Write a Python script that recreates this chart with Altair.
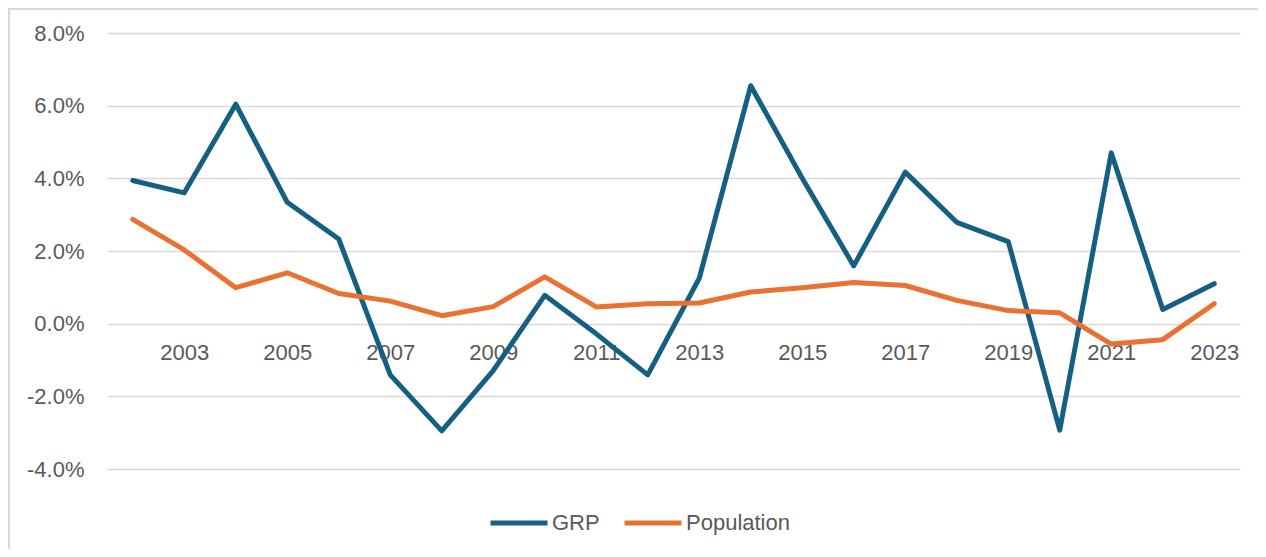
import altair as alt
import pandas as pd

years = list(range(2002, 2024))
grp = [3.94, 3.60, 6.04, 3.34, 2.33, -1.41, -2.95, -1.29, 0.78, -0.28, -1.41,
       1.25, 6.55, 4.00, 1.59, 4.17, 2.79, 2.26, -2.93, 4.70, 0.39, 1.10]
population = [2.87, 2.03, 0.99, 1.40, 0.83, 0.62, 0.22, 0.47, 1.29, 0.46, 0.55,
              0.57, 0.87, 0.99, 1.13, 1.05, 0.64, 0.36, 0.30, -0.56, -0.44, 0.55]
series_names = ["GRP", "Population"]
series_colors = ["#156082", "#E97132"]
y_ticks = [-0.04, -0.02, 0.0, 0.02, 0.04, 0.06, 0.08]
x_label_years = list(range(2003, 2024, 2))

df = pd.concat([
    pd.DataFrame({"Year": years, "Series": "GRP", "Pct": grp}),
    pd.DataFrame({"Year": years, "Series": "Population", "Pct": population}),
])

FONT = "Liberation Sans"
TXT = "#595959"
FS = 22
W, H = 1133, 436

lines = alt.Chart(df).transform_calculate(
    Value="datum.Pct / 100"
).mark_line(strokeWidth=5, strokeCap="round", strokeJoin="round").encode(
    x=alt.X("Year:O", scale=alt.Scale(paddingOuter=0.5),
            axis=alt.Axis(values=x_label_years, title=None, labelAngle=0,
                          domain=False, ticks=False, grid=False,
                          offset=-145.3, labelPadding=19,
                          labelFont=FONT, labelFontSize=FS, labelColor=TXT)),
    y=alt.Y("Value:Q", scale=alt.Scale(domain=[-0.04, 0.08], nice=False, zero=False),
            axis=alt.Axis(values=y_ticks, title=None, domain=False, ticks=False,
                          labelExpr="replace(format(datum.value, '.1%'), '\u2212', '-')",
                          labelPadding=23, gridColor="#D9D9D9", gridWidth=1.3,
                          labelFont=FONT, labelFontSize=FS, labelColor=TXT)),
    color=alt.Color("Series:N", sort=series_names,
                    scale=alt.Scale(domain=series_names, range=series_colors),
                    legend=alt.Legend(orient="none", legendX=381, legendY=459,
                                      direction="horizontal", title=None,
                                      symbolType="stroke", symbolSize=3249,
                                      symbolStrokeWidth=5, labelOffset=2,
                                      columnPadding=14, padding=0,
                                      labelFont=FONT, labelFontSize=FS,
                                      labelColor=TXT)),
)

one = pd.DataFrame({"a": [0]})
border_top = alt.Chart(one).mark_rule(stroke="#D9D9D9", strokeWidth=2).encode(
    x=alt.value(-99), x2=alt.value(1400), y=alt.value(-24)
)
border_left = alt.Chart(one).mark_rule(stroke="#D9D9D9", strokeWidth=2).encode(
    x=alt.value(-98), y=alt.value(-25), y2=alt.value(700)
)

chart = alt.layer(border_top, border_left, lines).properties(
    width=W, height=H,
    background="white",
    autosize=alt.AutoSizeParams(type="none"),
    padding={"left": 99, "top": 25, "right": 18, "bottom": 80},
).configure_view(strokeWidth=0)

chart.save("out.html", embed_options={"renderer": "svg", "actions": False})
